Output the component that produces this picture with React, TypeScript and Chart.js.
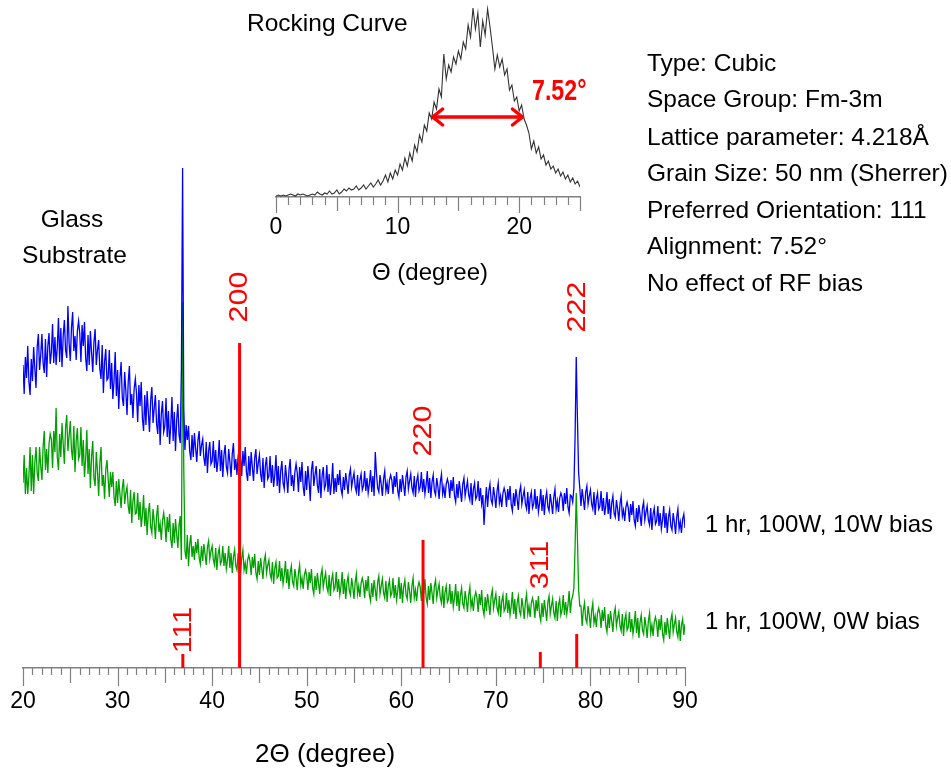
import React, { useEffect, useRef } from 'react';
import { Chart, registerables } from 'chart.js';

Chart.register(...registerables);

// ---------------- DATA ----------------
// Main XRD scan: 2θ grid start/step (one row = one degree), intensities (a.u.)
const TWO_THETA_START = 20;
const TWO_THETA_STEP = 0.125;

const bias10W: number[] = [
  303, 274, 311, 290, 322, 286, 273, 309,
  287, 321, 300, 280, 321, 334, 298, 313,
  334, 305, 295, 329, 291, 322, 335, 304,
  316, 344, 305, 331, 303, 321, 350, 306,
  340, 301, 332, 348, 318, 310, 362, 325,
  307, 340, 356, 317, 332, 308, 337, 347,
  335, 306, 343, 322, 346, 310, 297, 333,
  303, 337, 316, 296, 326, 339, 303, 318,
  328, 299, 289, 323, 275, 306, 319, 288,
  290, 318, 279, 305, 269, 287, 316, 272,
  298, 259, 290, 306, 270, 262, 296, 277,
  253, 286, 302, 263, 274, 250, 279, 289,
  275, 246, 283, 262, 286, 250, 237, 273,
  243, 277, 256, 236, 268, 281, 245, 260,
  273, 244, 234, 268, 223, 254, 267, 236,
  242, 270, 231, 257, 224, 242, 271, 227,
  256, 217, 248, 264, 233, 225, 300, 500,
  260, 218, 243, 228, 242, 217, 208, 233,
  211, 235, 220, 206, 228, 237, 212, 223,
  229, 210, 202, 226, 195, 217, 226, 204,
  207, 227, 200, 218, 196, 208, 228, 197,
  218, 191, 213, 223, 201, 195, 219, 206,
  191, 214, 225, 198, 209, 193, 212, 220,
  211, 192, 217, 202, 221, 196, 187, 212,
  192, 216, 201, 187, 210, 219, 194, 205,
  213, 194, 186, 210, 180, 202, 211, 189,
  192, 212, 185, 203, 181, 193, 213, 182,
  202, 175, 197, 207, 185, 179, 203, 190,
  175, 198, 209, 182, 193, 177, 196, 204,
  195, 176, 201, 186, 206, 181, 172, 197,
  178, 202, 187, 167, 198, 207, 182, 193,
  202, 183, 175, 199, 170, 192, 201, 179,
  183, 203, 176, 194, 173, 185, 205, 174,
  190, 176, 194, 183, 198, 179, 173, 191,
  178, 195, 185, 174, 193, 199, 181, 189,
  195, 181, 176, 193, 172, 188, 194, 178,
  182, 197, 177, 190, 175, 184, 198, 176,
  192, 172, 216, 195, 180, 176, 193, 184,
  172, 189, 197, 177, 185, 174, 188, 193,
  188, 174, 192, 181, 196, 177, 171, 189,
  176, 193, 183, 172, 191, 197, 179, 187,
  194, 180, 175, 192, 171, 187, 193, 177,
  181, 196, 176, 189, 174, 183, 197, 175,
  190, 170, 186, 193, 177, 173, 190, 181,
  169, 186, 194, 174, 181, 170, 184, 189,
  184, 170, 188, 177, 191, 172, 166, 184,
  170, 187, 177, 166, 184, 190, 172, 180,
  187, 173, 168, 185, 163, 179, 185, 169,
  172, 187, 167, 180, 164, 173, 143, 165,
  181, 161, 177, 184, 168, 164, 181, 172,
  160, 177, 185, 165, 172, 161, 175, 180,
  175, 161, 179, 168, 182, 163, 157, 175,
  162, 179, 169, 158, 176, 182, 164, 172,
  178, 164, 159, 176, 154, 170, 176, 160,
  164, 179, 159, 172, 156, 165, 179, 157,
  173, 153, 169, 176, 161, 157, 174, 165,
  154, 171, 179, 159, 167, 156, 170, 175,
  171, 157, 175, 164, 180, 161, 155, 173,
  172, 166, 180, 230, 311, 250, 195, 180,
  162, 179, 169, 158, 176, 182, 164, 172,
  178, 164, 159, 176, 153, 169, 175, 159,
  162, 177, 157, 170, 153, 162, 176, 154,
  169, 149, 165, 172, 155, 151, 168, 159,
  147, 164, 172, 152, 158, 147, 161, 166,
  160, 146, 164, 153, 167, 148, 142, 160,
  146, 163, 153, 142, 160, 166, 148, 156,
  162, 148, 143, 160, 138, 154, 160, 144,
  147, 162, 142, 155, 139, 148, 162, 140,
  155, 135, 151, 158, 142, 138, 155, 146,
  134, 151, 159, 139, 146, 135, 149, 154,
  140,
];

const bias0W: number[] = [
  185, 213, 174, 200, 174, 192, 221, 177,
  213, 174, 205, 221, 195, 187, 221, 202,
  188, 221, 237, 198, 219, 195, 224, 234,
  229, 200, 237, 216, 260, 211, 198, 234,
  211, 245, 224, 204, 240, 253, 217, 232,
  247, 218, 208, 242, 196, 227, 240, 209,
  213, 241, 202, 228, 191, 209, 238, 194,
  219, 180, 211, 227, 190, 182, 216, 197,
  172, 205, 221, 182, 193, 169, 198, 208,
  190, 171, 196, 181, 196, 171, 162, 187,
  165, 189, 174, 160, 180, 189, 164, 175,
  181, 162, 154, 178, 145, 167, 176, 154,
  155, 175, 148, 166, 141, 153, 173, 142,
  160, 133, 155, 165, 141, 135, 159, 146,
  129, 152, 163, 136, 144, 128, 147, 155,
  145, 126, 151, 136, 154, 129, 120, 145,
  125, 149, 134, 120, 143, 152, 108, 366,
  200, 117, 109, 133, 102, 124, 133, 111,
  122, 108, 126, 115, 129, 110, 104, 122,
  107, 124, 114, 103, 121, 127, 109, 117,
  122, 108, 103, 120, 98, 114, 120, 104,
  107, 122, 102, 115, 99, 108, 122, 100,
  115, 95, 111, 118, 102, 98, 115, 106,
  93, 110, 118, 98, 105, 94, 108, 113,
  107, 93, 111, 100, 114, 95, 89, 107,
  93, 110, 100, 89, 107, 113, 95, 103,
  108, 94, 89, 106, 84, 100, 106, 90,
  92, 107, 87, 100, 84, 93, 107, 85,
  99, 79, 95, 102, 86, 82, 99, 90,
  78, 95, 103, 83, 90, 79, 93, 98,
  92, 78, 96, 85, 99, 80, 74, 92,
  78, 95, 85, 74, 93, 99, 81, 89,
  95, 81, 76, 93, 72, 88, 94, 78,
  81, 96, 76, 89, 73, 82, 96, 74,
  89, 69, 85, 92, 77, 73, 90, 81,
  69, 86, 94, 74, 82, 71, 85, 90,
  84, 70, 88, 77, 92, 73, 67, 85,
  71, 88, 78, 67, 86, 92, 74, 82,
  89, 75, 70, 87, 66, 82, 88, 72,
  75, 90, 70, 83, 68, 77, 91, 69,
  85, 65, 81, 88, 73, 69, 86, 77,
  65, 82, 90, 70, 78, 67, 81, 86,
  81, 67, 85, 74, 89, 70, 64, 82,
  68, 85, 75, 64, 82, 88, 70, 78,
  84, 70, 65, 82, 60, 76, 82, 66,
  69, 84, 64, 77, 61, 70, 84, 62,
  77, 57, 73, 80, 64, 60, 77, 68,
  56, 73, 81, 61, 68, 57, 71, 76,
  70, 56, 74, 63, 78, 59, 53, 71,
  57, 74, 64, 53, 72, 78, 60, 68,
  74, 60, 55, 72, 51, 67, 73, 57,
  60, 75, 55, 68, 53, 62, 76, 54,
  69, 49, 65, 72, 57, 53, 70, 61,
  49, 66, 74, 54, 62, 51, 65, 70,
  64, 50, 68, 57, 72, 53, 47, 65,
  51, 68, 58, 47, 66, 72, 54, 62,
  69, 55, 50, 67, 47, 63, 69, 53,
  58, 73, 53, 66, 54, 63, 77, 55,
  68, 72, 80, 120, 175, 130, 78, 62,
  62, 42, 58, 65, 49, 45, 62, 53,
  40, 57, 65, 45, 52, 41, 55, 60,
  54, 40, 58, 47, 61, 42, 36, 54,
  40, 57, 47, 36, 54, 60, 42, 50,
  56, 42, 37, 54, 32, 48, 54, 38,
  41, 56, 36, 49, 34, 43, 57, 35,
  50, 30, 46, 53, 38, 34, 51, 42,
  30, 47, 55, 35, 43, 32, 46, 51,
  45, 31, 49, 38, 53, 34, 28, 46,
  33, 50, 40, 29, 48, 54, 36, 44,
  50, 36, 31, 48, 27, 43, 49, 33,
  44,
];

const seriesLabels = ['1 hr, 100W, 10W bias', '1 hr, 100W, 0W bias'];

// Reference pattern (stick lines)
const stickPositions = [36.9, 42.9, 62.3, 74.7, 78.55];
const stickHeights = [14, 325, 128, 16, 34];
const stickLabels = ['111', '200', '220', '311', '222'];

// Rocking curve inset
const ROCK_START = 0;
const ROCK_STEP = 0.2;
const rocking: number[] = [
  1, 2, 1, 2, 1, 2, 3, 2, 1, 3,
  2, 3, 2, 1, 2, 3, 2, 5, 3, 2,
  4, 3, 6, 3, 4, 7, 3, 5, 8, 6,
  9, 7, 8, 11, 7, 9, 12, 8, 11, 14,
  10, 13, 17, 12, 16, 22, 15, 24, 18, 27,
  22, 33, 27, 39, 31, 44, 36, 52, 45, 62,
  55, 72, 66, 84, 78, 95, 88, 108, 100, 143,
  118, 132, 125, 140, 133, 146, 138, 155, 148, 172,
  160, 189, 168, 184, 150, 176, 162, 188, 170, 150,
  128, 142, 130, 138, 122, 128, 107, 112, 96, 100,
  86, 92, 78, 72, 64, 48, 56, 44, 50, 38,
  42, 32, 36, 28, 31, 24, 28, 21, 25, 18,
  22, 15, 19, 13, 16, 10,
];
const fwhmStart = 12.8;
const fwhmEnd = 20.35;
const fwhmLevel = 80;
const fwhmText = '7.52°';

const infoLines = [
  'Type: Cubic',
  'Space Group: Fm-3m',
  'Lattice parameter: 4.218Å',
  'Grain Size: 50 nm (Sherrer)',
  'Preferred Orientation: 111',
  'Alignment: 7.52°',
  'No effect of RF bias',
];

// ---------------- LAYOUT / STYLE ----------------
const FONT = "'Liberation Sans', Arial, Helvetica, sans-serif";
const AXIS_COLOR = '#808080';
const stickLabelLevels = [38, 371, 237, 103, 361];

function toPoints(start: number, step: number, values: number[]) {
  return values.map((y, i) => ({ x: +(start + i * step).toFixed(4), y }));
}

function drawTicks(chart: any, min: number, max: number, lens: [number, number, number]) {
  const { ctx, chartArea, scales } = chart;
  const x = scales.x;
  ctx.save();
  ctx.strokeStyle = AXIS_COLOR;
  ctx.lineWidth = 1.2;
  for (let v = min; v <= max; v += 1) {
    const px = Math.round(x.getPixelForValue(v)) + 0.5;
    const len = v % 10 === 0 ? lens[2] : v % 5 === 0 ? lens[1] : lens[0];
    ctx.beginPath();
    ctx.moveTo(px, chartArea.bottom);
    ctx.lineTo(px, chartArea.bottom + len);
    ctx.stroke();
  }
  ctx.restore();
}

const mainDecor = {
  id: 'mainDecor',
  afterDraw(chart: any) {
    drawTicks(chart, 20, 90, [7, 15, 18]);
    const { ctx, scales } = chart;
    ctx.save();
    ctx.fillStyle = '#ff0000';
    ctx.font = `25px ${FONT}`;
    ctx.textAlign = 'center';
    ctx.textBaseline = 'middle';
    stickLabels.forEach((t, i) => {
      const px = scales.x.getPixelForValue(stickPositions[i]);
      const py = scales.y.getPixelForValue(stickLabelLevels[i]);
      ctx.save();
      ctx.translate(px + 1, py);
      ctx.rotate(-Math.PI / 2);
      ctx.scale(1.22, 1);
      ctx.fillText(t, 0, 0);
      ctx.restore();
    });
    ctx.restore();
  },
};

const insetDecor = {
  id: 'insetDecor',
  afterDraw(chart: any) {
    drawTicks(chart, 0, 25, [8, 14, 16]);
    const { ctx, scales } = chart;
    const x1 = scales.x.getPixelForValue(fwhmStart);
    const x2 = scales.x.getPixelForValue(fwhmEnd);
    const yy = scales.y.getPixelForValue(fwhmLevel);
    ctx.save();
    ctx.strokeStyle = '#ff0000';
    ctx.lineWidth = 3.5;
    ctx.lineCap = 'round';
    ctx.lineJoin = 'round';
    ctx.beginPath();
    ctx.moveTo(x1 + 1, yy);
    ctx.lineTo(x2 - 1, yy);
    ctx.stroke();
    ctx.beginPath();
    ctx.moveTo(x1 + 11, yy - 8);
    ctx.lineTo(x1 + 1, yy);
    ctx.lineTo(x1 + 11, yy + 8);
    ctx.stroke();
    ctx.beginPath();
    ctx.moveTo(x2 - 11, yy - 8);
    ctx.lineTo(x2 - 1, yy);
    ctx.lineTo(x2 - 11, yy + 8);
    ctx.stroke();
    ctx.restore();
  },
};

function T(props: {
  x: number; cy: number; size: number; children: any;
  center?: boolean; bold?: boolean; color?: string; sx?: number;
}) {
  const { x, cy, size, children, center, bold, color, sx } = props;
  const transforms: string[] = [];
  if (center) transforms.push('translateX(-50%)');
  if (sx) transforms.push(`scaleX(${sx})`);
  return (
    <div
      style={{
        position: 'absolute',
        left: x,
        top: cy - 0.4885 * size,
        fontSize: size,
        lineHeight: `${size}px`,
        fontFamily: FONT,
        fontWeight: bold ? 'bold' : 'normal',
        color: color || '#000',
        whiteSpace: 'nowrap',
        transform: transforms.length ? transforms.join(' ') : undefined,
        transformOrigin: 'left center',
      }}
    >
      {children}
    </div>
  );
}

function xAxis(min: number, max: number, height: number, padding: number) {
  return {
    type: 'linear',
    min,
    max,
    grid: { display: false, drawTicks: false },
    border: { display: true, color: AXIS_COLOR, width: 1.5 },
    ticks: {
      stepSize: 10,
      color: '#000',
      padding,
      maxRotation: 0,
      autoSkip: false,
      font: { family: FONT, size: 23 },
      callback: (v: any) => (Number(v) % 10 === 0 ? String(v) : ''),
    },
    afterFit: (s: any) => {
      s.height = height;
      s.paddingLeft = 0;
      s.paddingRight = 0;
    },
  };
}

export default function App() {
  const mainRef = useRef<HTMLCanvasElement>(null);
  const insetRef = useRef<HTMLCanvasElement>(null);

  useEffect(() => {
    const stickSets = stickPositions.map((p, i) => ({
      label: stickLabels[i],
      data: [{ x: p, y: 0 }, { x: p, y: stickHeights[i] }],
      borderColor: '#ff0000',
      borderWidth: 3,
      pointRadius: 0,
      order: 0,
    }));
    const main = new Chart(mainRef.current as HTMLCanvasElement, {
      type: 'line',
      data: {
        datasets: [
          ...stickSets,
          {
            label: seriesLabels[0],
            data: toPoints(TWO_THETA_START, TWO_THETA_STEP, bias10W),
            borderColor: '#0000ff',
            borderWidth: 1.3,
            pointRadius: 0,
            tension: 0,
            order: 1,
          },
          {
            label: seriesLabels[1],
            data: toPoints(TWO_THETA_START, TWO_THETA_STEP, bias0W),
            borderColor: '#00a000',
            borderWidth: 1.3,
            pointRadius: 0,
            tension: 0,
            order: 2,
          },
        ] as any,
      },
      options: {
        animation: false,
        responsive: false,
        maintainAspectRatio: false,
        events: [],
        layout: { padding: { left: 23, right: 266, top: 158, bottom: 0 } },
        scales: {
          x: xAxis(20, 90, 104, 20),
          y: { display: false, min: 0, max: 510 },
        },
        plugins: { legend: { display: false }, tooltip: { enabled: false } },
      } as any,
      plugins: [mainDecor],
    });

    const inset = new Chart(insetRef.current as HTMLCanvasElement, {
      type: 'line',
      data: {
        datasets: [
          {
            label: 'Rocking Curve',
            data: toPoints(ROCK_START, ROCK_STEP, rocking),
            borderColor: '#333333',
            borderWidth: 1.1,
            pointRadius: 0,
            tension: 0,
          },
        ],
      },
      options: {
        animation: false,
        responsive: false,
        maintainAspectRatio: false,
        events: [],
        layout: { padding: { left: 46, right: 30, top: 5, bottom: 0 } },
        scales: {
          x: xAxis(0, 25, 93, 17),
          y: { display: false, min: 0, max: 192 },
        },
        plugins: { legend: { display: false }, tooltip: { enabled: false } },
      } as any,
      plugins: [insetDecor],
    });

    return () => {
      main.destroy();
      inset.destroy();
    };
  }, []);

  const infoY = [62.5, 99, 136.5, 172.5, 209.5, 246, 282.5];

  return (
    <div
      style={{
        position: 'fixed',
        left: 0,
        top: 0,
        width: 951,
        height: 772,
        background: '#ffffff',
        overflow: 'hidden',
      }}
    >
      <canvas
        ref={mainRef}
        width={951}
        height={772}
        style={{ position: 'absolute', left: 0, top: 0, width: 951, height: 772 }}
      />
      <canvas
        ref={insetRef}
        width={380}
        height={290}
        style={{ position: 'absolute', left: 230, top: 0, width: 380, height: 290 }}
      />
      <T x={247} cy={23} size={24.5}>Rocking Curve</T>
      <T x={372} cy={272} size={24}>Θ (degree)</T>
      <T x={532} cy={90} size={29} bold color="#ff0000" sx={0.8}>{fwhmText}</T>
      {infoLines.map((t, i) => (
        <T key={t} x={647} cy={infoY[i]} size={24.5}>{t}</T>
      ))}
      <T x={72} cy={219} size={24.5} center>Glass</T>
      <T x={74.5} cy={255} size={24.5} center>Substrate</T>
      <T x={705} cy={524} size={24}>{seriesLabels[0]}</T>
      <T x={705} cy={621} size={24}>{seriesLabels[1]}</T>
      <T x={255} cy={753} size={26}>2Θ (degree)</T>
    </div>
  );
}
